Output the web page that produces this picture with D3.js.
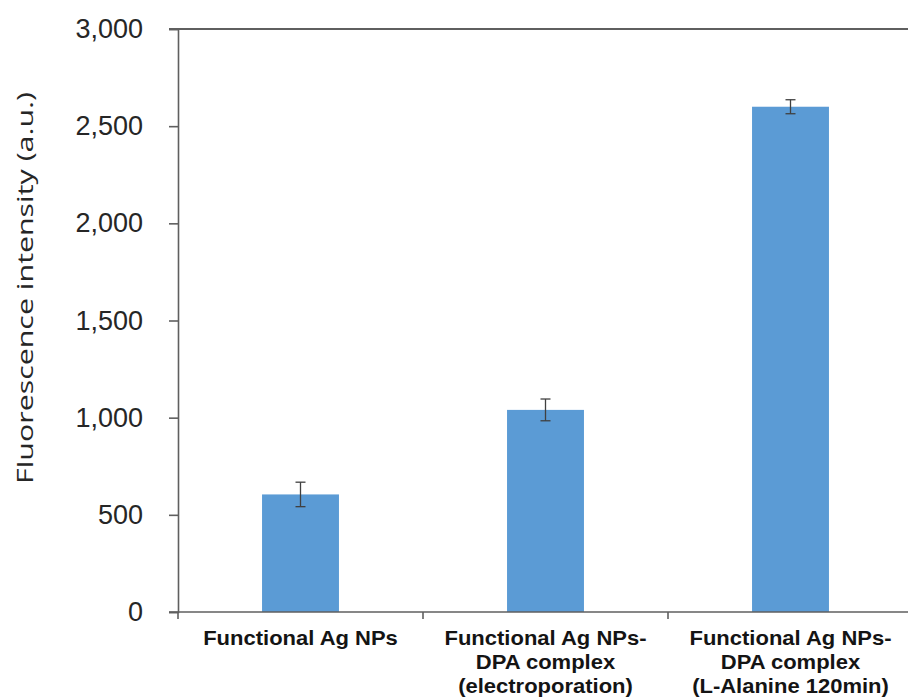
<!DOCTYPE html>
<html>
<head>
<meta charset="utf-8">
<script src="https://cdn.jsdelivr.net/npm/d3@7"></script>
<style>
  html, body { margin: 0; padding: 0; background: #fff; }
  svg { display: block; }
</style>
</head>
<body>
<svg id="chart" width="908" height="700"></svg>
<script>
// Sample groups (each label split into its printed lines)
const categories = [
  ["Functional Ag NPs"],
  ["Functional Ag NPs-", "DPA complex", "(electroporation)"],
  ["Functional Ag NPs-", "DPA complex", "(L-Alanine 120min)"]
];
// Mean fluorescence intensity (a.u.) and error (±)
const values = [605, 1040, 2600];
const errors = [63, 56, 36];
// Y axis ticks
const yTicks = [0, 500, 1000, 1500, 2000, 2500, 3000];

const svg = d3.select("#chart");
const plotLeft = 178, plotRight = 913, plotTop = 29, plotBottom = 612;

const x = d3.scaleBand()
  .domain(d3.range(categories.length))
  .range([plotLeft, plotRight])
  .paddingInner(0.686)
  .paddingOuter(0.343);

const y = d3.scaleLinear().domain([0, 3000]).range([plotBottom, plotTop]);

const axisColor = "#5f5f5f";

// Bars
svg.append("g").selectAll("rect")
  .data(values)
  .join("rect")
  .attr("x", (d, i) => x(i))
  .attr("width", x.bandwidth())
  .attr("y", d => y(d))
  .attr("height", d => y(0) - y(d))
  .attr("fill", "#5b9bd5");

// Error bars
const eb = svg.append("g").attr("stroke", "#404040").attr("stroke-width", 1.3);
values.forEach((v, i) => {
  const cx = x(i) + x.bandwidth() / 2;
  eb.append("line").attr("x1", cx).attr("x2", cx).attr("y1", y(v + errors[i])).attr("y2", y(v - errors[i]));
  eb.append("line").attr("x1", cx - 5).attr("x2", cx + 5).attr("y1", y(v + errors[i])).attr("y2", y(v + errors[i]));
  eb.append("line").attr("x1", cx - 5).attr("x2", cx + 5).attr("y1", y(v - errors[i])).attr("y2", y(v - errors[i]));
});

// Y axis
const yAxis = svg.append("g")
  .attr("transform", `translate(${plotLeft},0)`)
  .call(d3.axisLeft(y).tickValues(yTicks).tickFormat(d3.format(",")).tickSize(9).tickPadding(26));
yAxis.select(".domain").attr("stroke", axisColor).attr("stroke-width", 1.6);
yAxis.selectAll(".tick line").attr("stroke", axisColor).attr("stroke-width", 1.6);
yAxis.selectAll(".tick text")
  .attr("fill", "#262626")
  .style("font-family", "'Liberation Sans', Arial, sans-serif")
  .style("font-size", "27px");

// Top border at the 3,000 level
svg.append("line")
  .attr("x1", plotLeft - 9).attr("x2", 908)
  .attr("y1", y(3000)).attr("y2", y(3000))
  .attr("stroke", axisColor).attr("stroke-width", 2);

// X axis baseline and category separators
svg.append("line")
  .attr("x1", plotLeft - 9).attr("x2", 908)
  .attr("y1", y(0)).attr("y2", y(0))
  .attr("stroke", axisColor).attr("stroke-width", 1.6);
const step = x.step();
d3.range(categories.length + 1).forEach(i => {
  const bx = plotLeft + i * step;
  svg.append("line")
    .attr("x1", bx).attr("x2", bx)
    .attr("y1", y(0)).attr("y2", y(0) + 7)
    .attr("stroke", axisColor).attr("stroke-width", 1.6);
});

// Category labels (slightly widened bold face)
const lab = svg.append("g")
  .style("font-family", "'Liberation Sans', Arial, sans-serif")
  .style("font-weight", "bold")
  .style("font-size", "20px")
  .attr("fill", "#141414")
  .attr("text-anchor", "middle");
categories.forEach((lines, i) => {
  const cx = x(i) + x.bandwidth() / 2;
  const t = lab.append("text").attr("transform", `translate(${cx},0) scale(1.1,1)`);
  lines.forEach((ln, j) => {
    t.append("tspan").attr("x", 0).attr("y", 645 + j * 24).text(ln);
  });
});

// Y axis title
svg.append("text")
  .attr("transform", `translate(33,288) rotate(-90)`)
  .attr("text-anchor", "middle")
  .attr("textLength", 392)
  .attr("lengthAdjust", "spacingAndGlyphs")
  .style("font-family", "'Open Sans', sans-serif")
  .style("font-size", "22px")
  .attr("fill", "#262626")
  .text("Fluorescence intensity (a.u.)");
</script>
</body>
</html>
